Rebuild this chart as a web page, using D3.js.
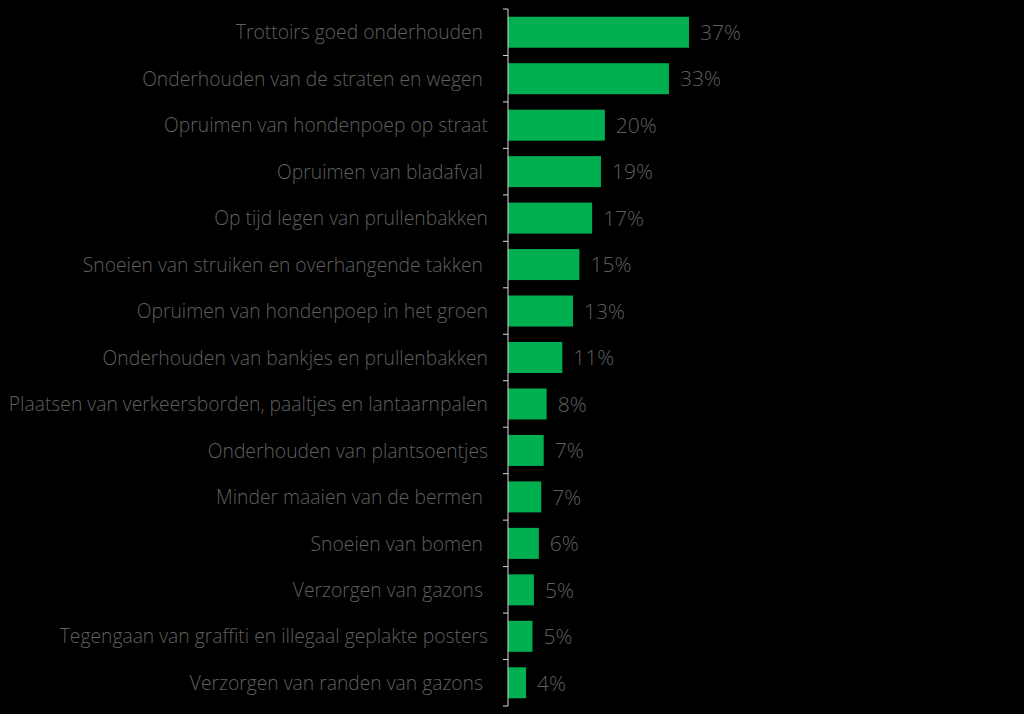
<!DOCTYPE html>
<html>
<head>
<meta charset="utf-8">
<script src="https://cdn.jsdelivr.net/npm/d3@7"></script>
<style>
  html, body { margin: 0; padding: 0; background: #000; }
  svg { display: block; }
  text { white-space: pre; }
</style>
</head>
<body>
<svg id="chart" width="1024" height="714"></svg>
<script>
const categories = [
  "Trottoirs goed onderhouden ",
  "Onderhouden van de straten en wegen ",
  "Opruimen van hondenpoep op straat",
  "Opruimen van bladafval ",
  "Op tijd legen van prullenbakken",
  "Snoeien van struiken en overhangende takken ",
  "Opruimen van hondenpoep in het groen",
  "Onderhouden van bankjes en prullenbakken",
  "Plaatsen van verkeersborden, paaltjes en lantaarnpalen",
  "Onderhouden van plantsoentjes",
  "Minder maaien van de bermen ",
  "Snoeien van bomen ",
  "Verzorgen van gazons ",
  "Tegengaan van graffiti en illegaal geplakte posters",
  "Verzorgen van randen van gazons "
];
const values = [37.0, 32.9, 19.8, 19.0, 17.2, 14.6, 13.3, 11.1, 7.9, 7.3, 6.8, 6.3, 5.3, 5.0, 3.7];
const valueLabels = ["37%", "33%", "20%", "19%", "17%", "15%", "13%", "11%", "8%", "7%", "7%", "6%", "5%", "5%", "4%"];

const svg = d3.select("#chart");
const x0 = 508;
const x = d3.scaleLinear().domain([0, 37]).range([x0, x0 + 181]);
const y = d3.scaleBand().domain(categories).range([9, 706]).paddingInner(0.333).paddingOuter(0.1665);

// bars
svg.append("g").selectAll("rect")
  .data(values)
  .join("rect")
  .attr("x", x(0))
  .attr("y", (d, i) => y(categories[i]))
  .attr("width", d => x(d) - x(0))
  .attr("height", y.bandwidth())
  .attr("fill", "#00b050");

// value labels
svg.append("g").selectAll("text")
  .data(values)
  .join("text")
  .attr("x", d => x(d) + 11)
  .attr("y", (d, i) => y(categories[i]) + y.bandwidth() / 2)
  .attr("dy", "0.37em")
  .attr("font-family", "'Open Sans', sans-serif")
  .attr("font-weight", 300)
  .attr("font-size", 21)
  .attr("fill", "#5f5f5f")
  .text((d, i) => valueLabels[i]);

// axis line and ticks at band boundaries
const axisG = svg.append("g");
axisG.append("line")
  .attr("x1", x0).attr("x2", x0)
  .attr("y1", 9).attr("y2", 706)
  .attr("stroke", "#d9d9d9").attr("stroke-width", 1);
const step = y.step();
const boundaries = d3.range(categories.length + 1).map(i => 9 + i * step);
axisG.selectAll("line.tick")
  .data(boundaries)
  .join("line")
  .attr("class", "tick")
  .attr("x1", x0 - 5).attr("x2", x0)
  .attr("y1", d => d).attr("y2", d => d)
  .attr("stroke", "#d9d9d9").attr("stroke-width", 1);

// category labels
svg.append("g").selectAll("text")
  .data(categories)
  .join("text")
  .attr("x", 488)
  .attr("y", d => y(d) + y.bandwidth() / 2)
  .attr("dy", "0.37em")
  .attr("text-anchor", "end")
  .attr("font-family", "'Open Sans', sans-serif")
  .attr("font-weight", 300)
  .attr("font-size", 19.3)
  .attr("fill", "#5f5f5f")
  .text(d => d);
</script>
</body>
</html>
